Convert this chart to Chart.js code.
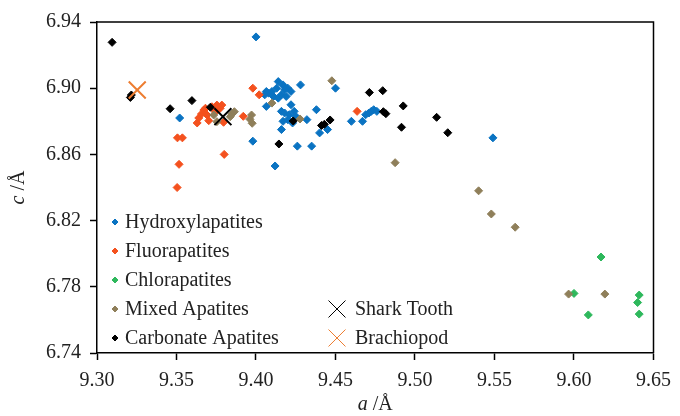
<!DOCTYPE html>
<html>
<head>
<meta charset="utf-8">
<script src="https://cdn.jsdelivr.net/npm/chart.js@4/dist/chart.umd.min.js"></script>
<style>
  html, body { margin: 0; padding: 0; background: #fff; }
  #wrap { width: 680px; height: 416px; }
</style>
</head>
<body>
<div id="wrap"><canvas id="c"></canvas></div>
<script>
// lattice parameters [a, c] in Å
const hydroxylapatites = [
  [9.400, 6.931], [9.352, 6.882], [9.398, 6.868], [9.412, 6.853], [9.4065, 6.898],
  [9.4065, 6.889], [9.414, 6.904], [9.417, 6.902], [9.420, 6.900], [9.422, 6.898],
  [9.408, 6.897], [9.411, 6.895], [9.414, 6.894], [9.416, 6.896], [9.418, 6.899],
  [9.413, 6.900], [9.410, 6.898], [9.419, 6.895], [9.4055, 6.896], [9.428, 6.902],
  [9.422, 6.890], [9.416, 6.886], [9.418, 6.885], [9.421, 6.884], [9.424, 6.886],
  [9.425, 6.883], [9.417, 6.880], [9.420, 6.881], [9.423, 6.879], [9.416, 6.875],
  [9.432, 6.881], [9.438, 6.887], [9.445, 6.875], [9.440, 6.873], [9.426, 6.865],
  [9.435, 6.865], [9.450, 6.900], [9.460, 6.880], [9.467, 6.880], [9.469, 6.884],
  [9.471, 6.885], [9.4725, 6.886], [9.474, 6.887], [9.476, 6.886], [9.549, 6.870]
];
const fluorapatites = [
  [9.398, 6.900], [9.402, 6.896], [9.392, 6.883], [9.3506, 6.870], [9.3537, 6.870],
  [9.3516, 6.854], [9.3504, 6.840], [9.380, 6.860], [9.4636, 6.886], [9.363, 6.879],
  [9.364, 6.882], [9.3657, 6.8844], [9.3672, 6.8868], [9.3692, 6.8838], [9.3703, 6.8804],
  [9.3723, 6.8888], [9.3754, 6.8898], [9.3775, 6.8879], [9.3785, 6.8898], [9.3796, 6.8794],
  [9.3682, 6.8879], [9.3744, 6.8858]
];
const chlorapatites = [
  [9.600, 6.776], [9.617, 6.798], [9.609, 6.763], [9.641, 6.775], [9.640, 6.7705], [9.641, 6.7635]
];
const mixedApatites = [
  [9.3734, 6.8838], [9.3754, 6.8798], [9.3848, 6.8844], [9.3864, 6.8858], [9.3838, 6.8828],
  [9.3972, 6.8838], [9.3976, 6.8788], [9.3962, 6.8812], [9.410, 6.891], [9.4277, 6.8814],
  [9.4477, 6.9045], [9.4875, 6.855], [9.540, 6.838], [9.548, 6.824], [9.563, 6.816],
  [9.5966, 6.7756], [9.6194, 6.7756]
];
const carbonateApatites = [
  [9.3095, 6.9277], [9.3216, 6.8959], [9.321, 6.8944], [9.346, 6.8876], [9.3597, 6.8925],
  [9.3713, 6.8885], [9.4144, 6.8663], [9.4234, 6.8802], [9.4412, 6.8775], [9.443, 6.8782],
  [9.4466, 6.8808], [9.4713, 6.8974], [9.4797, 6.8985], [9.4926, 6.8893], [9.4801, 6.8858],
  [9.4817, 6.8846], [9.4915, 6.8764], [9.5136, 6.8824], [9.5206, 6.8731]
];
const sharkTooth = [[9.3792, 6.8828]];
const brachiopod = [[9.3253, 6.8989]];

const xTicks = [9.30, 9.35, 9.40, 9.45, 9.50, 9.55, 9.60, 9.65];
const yTicks = [6.74, 6.78, 6.82, 6.86, 6.90, 6.94];

const FONT = '"Liberation Serif", "Times New Roman", serif';
const TEXT = '#222';

function pts(arr) { return arr.map(p => ({ x: p[0], y: p[1] })); }

function diamonds(label, arr, color, order) {
  return {
    label, data: pts(arr), order,
    pointStyle: 'rectRot', pointRadius: 4, pointHoverRadius: 4,
    backgroundColor: color, borderColor: color, borderWidth: 1
  };
}
function cross(label, arr, color, order) {
  return {
    label, data: pts(arr), order,
    pointStyle: 'crossRot', pointRadius: 12, pointHoverRadius: 12,
    backgroundColor: color, borderColor: color, borderWidth: 2
  };
}

const datasets = [
  diamonds('Hydroxylapatites', hydroxylapatites, '#0a73c2', 6),
  diamonds('Fluorapatites', fluorapatites, '#f4511e', 5),
  diamonds('Chlorapatites', chlorapatites, '#2eb85c', 4),
  diamonds('Mixed Apatites', mixedApatites, '#8f7f5a', 3),
  diamonds('Carbonate Apatites', carbonateApatites, '#000000', 2),
  cross('Shark Tooth', sharkTooth, '#000000', 0),
  cross('Brachiopod', brachiopod, '#ed7d31', 1)
];

// legend drawn inside the plot, two columns
const cornerLegend = {
  id: 'cornerLegend',
  afterDraw(chart) {
    const ctx = chart.ctx, area = chart.chartArea;
    const slots = [[0, 0], [0, 1], [0, 2], [0, 3], [0, 4], [1, 3], [1, 4]];
    ctx.save();
    ctx.font = '20px ' + FONT;
    ctx.textBaseline = 'middle';
    ctx.fillStyle = TEXT;
    chart.data.datasets.forEach((ds, i) => {
      const col = slots[i][0], row = slots[i][1];
      const x = area.left + (col === 0 ? 18 : 240);
      const y = area.top + 200 + row * 29;
      const isCross = ds.pointStyle === 'crossRot';
      ctx.fillStyle = ds.backgroundColor;
      ctx.strokeStyle = ds.borderColor;
      Chart.helpers.drawPoint(ctx, {
        pointStyle: ds.pointStyle,
        radius: isCross ? 12 : 3,
        rotation: 0,
        borderWidth: isCross ? 2 : 1
      }, x, y);
      ctx.fillStyle = TEXT;
      ctx.fillText(ds.label, x + (isCross ? 18 : 10), y + 1);
    });
    ctx.restore();
  }
};

// frame on top/right and axis titles with italic symbols
const frameAndTitles = {
  id: 'frameAndTitles',
  afterDraw(chart) {
    const ctx = chart.ctx, area = chart.chartArea;
    ctx.save();
    ctx.strokeStyle = '#000';
    ctx.lineWidth = 1.5;
    ctx.beginPath();
    ctx.moveTo(area.left, area.top);
    ctx.lineTo(area.right, area.top);
    ctx.lineTo(area.right, area.bottom);
    ctx.stroke();

    function mixed(sym, rest, cx, cy) {
      ctx.font = 'italic 20px ' + FONT;
      const w1 = ctx.measureText(sym).width;
      ctx.font = '20px ' + FONT;
      const w2 = ctx.measureText(rest).width;
      let x = cx - (w1 + w2) / 2;
      ctx.font = 'italic 20px ' + FONT;
      ctx.fillText(sym, x, cy);
      ctx.font = '20px ' + FONT;
      ctx.fillText(rest, x + w1, cy);
    }
    ctx.fillStyle = TEXT;
    ctx.textBaseline = 'middle';
    ctx.textAlign = 'left';
    mixed('a', ' /Å', (area.left + area.right) / 2, 405);
    ctx.translate(19, (area.top + area.bottom) / 2);
    ctx.rotate(-Math.PI / 2);
    mixed('c', ' /Å', 0, 0);
    ctx.restore();
  }
};

new Chart(document.getElementById('c'), {
  type: 'scatter',
  data: { datasets },
  plugins: [cornerLegend, frameAndTitles],
  options: {
    responsive: true,
    maintainAspectRatio: false,
    animation: false,
    events: [],
    layout: { padding: { top: 22, right: 20, left: 0, bottom: 0 } },
    plugins: { legend: { display: false }, tooltip: { enabled: false } },
    scales: {
      x: {
        type: 'linear', min: 9.30, max: 9.65,
        afterBuildTicks: s => { s.ticks = xTicks.map(v => ({ value: v })); },
        afterFit: s => { s.height = 63; },
        border: { display: true, color: '#000', width: 1.5 },
        grid: { drawOnChartArea: false, drawTicks: true, tickLength: 7, tickColor: '#000', tickWidth: 1.5 },
        ticks: { color: TEXT, font: { family: FONT, size: 20 }, padding: 9, maxRotation: 0,
                 callback: v => Number(v).toFixed(2) }
      },
      y: {
        type: 'linear', min: 6.74, max: 6.94,
        afterBuildTicks: s => { s.ticks = yTicks.map(v => ({ value: v })); },
        afterFit: s => { s.width = 97; },
        border: { display: true, color: '#000', width: 1.5 },
        grid: { drawOnChartArea: false, drawTicks: true, tickLength: 7, tickColor: '#000', tickWidth: 1.5 },
        ticks: { color: TEXT, font: { family: FONT, size: 20 }, padding: 9,
                 callback: v => Number(v).toFixed(2) }
      }
    }
  }
});
</script>
</body>
</html>
